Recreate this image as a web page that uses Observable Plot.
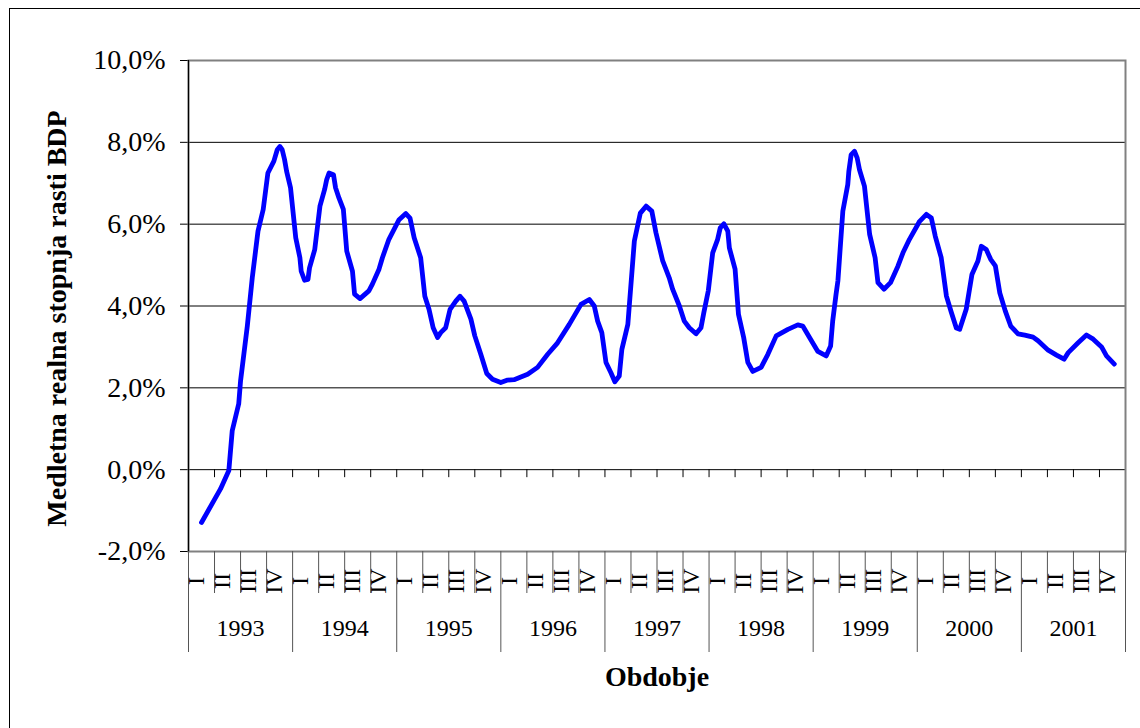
<!DOCTYPE html>
<html><head><meta charset="utf-8">
<script src="https://cdn.jsdelivr.net/npm/d3@7"></script>
<script src="https://cdn.jsdelivr.net/npm/@observablehq/plot@0.6"></script>
<style>
html,body{margin:0;padding:0;background:#fff;}
#wrap{position:relative;width:1140px;height:728px;overflow:hidden;}
#border{position:absolute;left:9px;top:8px;width:1300px;height:900px;border-top:1px solid #000;border-left:1px solid #000;}
#chart{position:absolute;left:0;top:0;}
</style></head><body>
<div id="wrap"><div id="border"></div><div id="chart"></div></div>
<script>
// Categories
const years = ["1993","1994","1995","1996","1997","1998","1999","2000","2001"];
const quarters = ["I","II","III","IV"];
const yTicks = [-2, 0, 2, 4, 6, 8, 10];
// Position in quarters since start of 1993
const time = [0.5,1.23,1.55,1.68,1.93,2.0,2.26,2.45,2.67,2.87,
3.05,3.28,3.41,3.51,3.60,3.69,3.77,3.92,4.12,4.28,
4.33,4.46,4.59,4.65,4.85,5.05,5.23,5.31,5.40,5.57,
5.65,5.78,5.95,6.08,6.30,6.38,6.59,6.93,7.07,7.32,
7.45,7.70,8.09,8.35,8.51,8.67,8.92,9.08,9.24,9.40,
9.57,9.69,9.88,10.05,10.27,10.43,10.59,10.85,11.0,11.23,
11.46,11.68,12.0,12.26,12.51,13.03,13.41,13.80,14.18,14.63,
15.08,15.40,15.59,15.72,15.88,16.04,16.23,16.38,16.55,16.65,
16.88,17.13,17.36,17.58,17.80,17.96,18.22,18.47,18.60,18.86,
19.05,19.24,19.50,19.69,19.80,19.97,20.14,20.33,20.43,20.57,
20.72,20.78,21.0,21.13,21.33,21.49,21.68,22.0,22.26,22.58,
23.03,23.41,23.60,23.86,24.18,24.5,24.67,24.75,24.88,24.95,
25.14,25.33,25.37,25.46,25.59,25.69,25.78,25.97,26.17,26.38,
26.49,26.72,26.97,27.26,27.45,27.70,28.09,28.35,28.54,28.69,
28.92,29.12,29.31,29.50,29.63,29.88,30.10,30.33,30.46,30.65,
30.82,31.0,31.17,31.38,31.59,31.87,32.13,32.45,32.64,33.03,
33.35,33.64,33.80,34.18,34.50,34.76,35.08,35.27,35.57];
// Year-on-year real GDP growth rate (%)
const growth = [-1.29,-0.47,-0.02,0.95,1.61,2.17,3.51,4.69,5.83,6.36,
7.25,7.54,7.82,7.90,7.82,7.58,7.29,6.89,5.67,5.18,
4.85,4.63,4.65,4.93,5.38,6.44,6.85,7.09,7.25,7.21,
6.89,6.64,6.36,5.34,4.85,4.29,4.18,4.37,4.54,4.90,
5.18,5.63,6.11,6.26,6.15,5.67,5.18,4.24,3.92,3.47,
3.23,3.35,3.47,3.92,4.12,4.24,4.12,3.68,3.27,2.82,
2.35,2.21,2.13,2.19,2.20,2.33,2.50,2.82,3.10,3.55,
4.04,4.16,4.0,3.63,3.35,2.62,2.37,2.15,2.29,2.94,
3.55,5.59,6.27,6.44,6.32,5.79,5.10,4.69,4.41,4.0,
3.63,3.47,3.32,3.47,3.84,4.37,5.30,5.63,5.91,6.01,
5.83,5.42,4.90,3.80,3.23,2.62,2.40,2.50,2.82,3.27,
3.43,3.54,3.51,3.23,2.89,2.78,3.02,3.63,4.29,4.61,
6.32,6.97,7.29,7.70,7.78,7.62,7.33,6.93,5.75,5.18,
4.57,4.41,4.57,4.98,5.30,5.63,6.07,6.24,6.15,5.71,
5.18,4.24,3.84,3.46,3.43,3.92,4.77,5.10,5.46,5.38,
5.14,4.98,4.32,3.88,3.51,3.32,3.29,3.24,3.15,2.92,
2.80,2.70,2.86,3.10,3.29,3.19,3.0,2.78,2.58];

const series = time.map((t, i) => ({t, v: growth[i]}));
const nQ = years.length * quarters.length;
const quarterCells = years.flatMap((y, yi) => quarters.map((q, qi) => ({t: yi * 4 + qi + 0.5, label: q})));
const yearCells = years.map((y, i) => ({t: i * 4 + 2, label: y}));
const boundaries = d3.range(1, nQ);
const innerBounds = d3.range(0, nQ + 1).filter(b => b % 4 !== 0);
const yearBounds = d3.range(0, years.length + 1).map(i => i * 4);
const pct = 12 / 491; // percent per pixel of the frame
const serif = "'Liberation Serif', 'Times New Roman', serif";

const chart = Plot.plot({
  width: 1140, height: 728,
  marginLeft: 188, marginRight: 15, marginTop: 60, marginBottom: 177,
  style: {fontFamily: serif, fontSize: "28px", color: "#000", background: "transparent"},
  x: {domain: [0, nQ], axis: null},
  y: {domain: [-2, 10], ticks: yTicks, tickFormat: d => d.toFixed(1).replace(".", ",") + "%",
      tickSize: 8, tickPadding: 15, label: null},
  marks: [
    Plot.ruleY([2, 4, 6, 8], {stroke: "#000", strokeWidth: 1}),
    Plot.ruleY([0], {stroke: "#000", strokeWidth: 1}),
    Plot.frame({stroke: "#808080", strokeWidth: 2}),
    Plot.ruleX([0], {stroke: "#000", strokeWidth: 1.2}),
    Plot.ruleX(boundaries, {y1: () => 0, y2: () => -8 * pct, stroke: "#000"}),
    Plot.ruleX(innerBounds, {y1: () => -2, y2: () => -2 - 42 * pct, stroke: "#555"}),
    Plot.ruleX(yearBounds, {y1: () => -2, y2: () => -2 - 101 * pct, stroke: "#555"}),
    Plot.text(quarterCells, {x: "t", y: () => -2, text: "label", rotate: -90, dx: -5, dy: 29.5, fontSize: 24, fill: "#000"}),
    Plot.text(yearCells, {x: "t", y: () => -2, text: "label", dy: 77, fontSize: 24, fill: "#000"}),
    Plot.line(series, {x: "t", y: "v", stroke: "#0000ff", strokeWidth: 4.8, strokeLinejoin: "round", strokeLinecap: "round"}),
    Plot.text(["Obdobje"], {text: d => d, frameAnchor: "bottom", textAnchor: "middle", dy: 134, fontWeight: "bold", fontSize: 28, fill: "#000"}),
    Plot.text(["Medletna realna stopnja rasti BDP"], {text: d => d, frameAnchor: "left", textAnchor: "middle", dx: -131, dy: 12.5, rotate: -90, fontWeight: "bold", fontSize: 28, fill: "#000"})
  ]
});
document.getElementById("chart").appendChild(chart);
</script>
</body></html>
